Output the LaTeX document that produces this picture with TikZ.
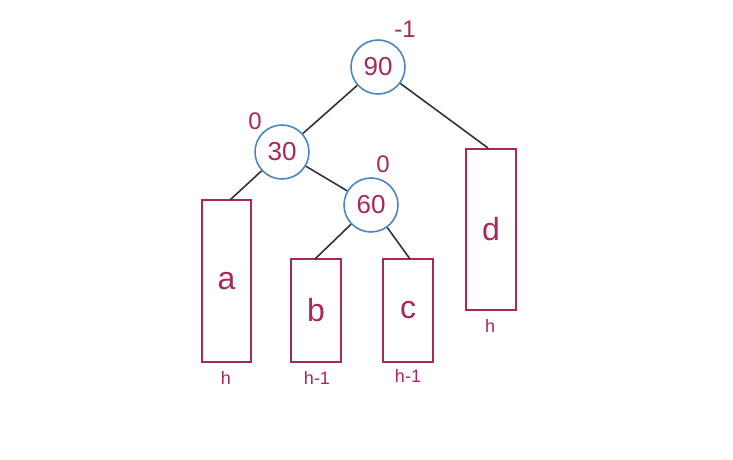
\documentclass[tikz,border=0pt]{standalone}
\usepackage{fontspec}
\setmainfont{Liberation Sans}
\definecolor{crim}{HTML}{A8285A}
\definecolor{cblue}{HTML}{4A86C6}
\definecolor{edgec}{HTML}{333333}
\begin{document}
\begin{tikzpicture}[x=1pt,y=-1pt,
  keynode/.style={circle,draw=cblue,line width=1.6pt,minimum size=54pt,inner sep=0pt,text=crim,font=\fontsize{26}{28}\selectfont},
  subtree/.style={rectangle,draw=crim,line width=1.5pt,inner sep=0pt,text=crim,font=\fontsize{32}{34}\selectfont},
  balance/.style={text=crim,font=\fontsize{24}{26}\selectfont,inner sep=0pt},
  height/.style={text=crim,font=\fontsize{18}{20}\selectfont,inner sep=0pt},
  edge/.style={draw=edgec,line width=1.6pt}]
\useasboundingbox (0,0) rectangle (733,460);
\fill[white] (0,0) rectangle (733,460);
\node[keynode] (n90) at (378,67) {90};
\node[keynode] (n30) at (282,152) {30};
\node[keynode] (n60) at (371,205) {60};
\node[subtree,minimum width=49pt,minimum height=162pt] (a) at (226.5,281) {a};
\node[subtree,minimum width=50pt,minimum height=103pt] (b) at (316,310.5) {b};
\node[subtree,minimum width=50pt,minimum height=103pt] (c) at (408,310.5) {c};
\node[subtree,minimum width=50pt,minimum height=161pt] (d) at (491,229.5) {d};
\node[balance] (bal90) at (405,29) {-1};
\node[balance] (bal30) at (255,121) {0};
\node[balance] (bal60) at (383,164) {0};
\node[height] (ha) at (226,378) {h};
\node[height] (hb) at (317,378) {h-1};
\node[height] (hc) at (408,376) {h-1};
\node[height] (hd) at (490,326) {h};
\coordinate (atop) at (230,200);
\coordinate (btop) at (315,259);
\coordinate (ctop) at (410,259);
\coordinate (dtop) at (488,148);
\draw[edge] (n90) -- (n30);
\draw[edge] (n90) -- (dtop);
\draw[edge] (n30) -- (atop);
\draw[edge] (n30) -- (n60);
\draw[edge] (n60) -- (btop);
\draw[edge] (n60) -- (ctop);
\end{tikzpicture}
\end{document}
